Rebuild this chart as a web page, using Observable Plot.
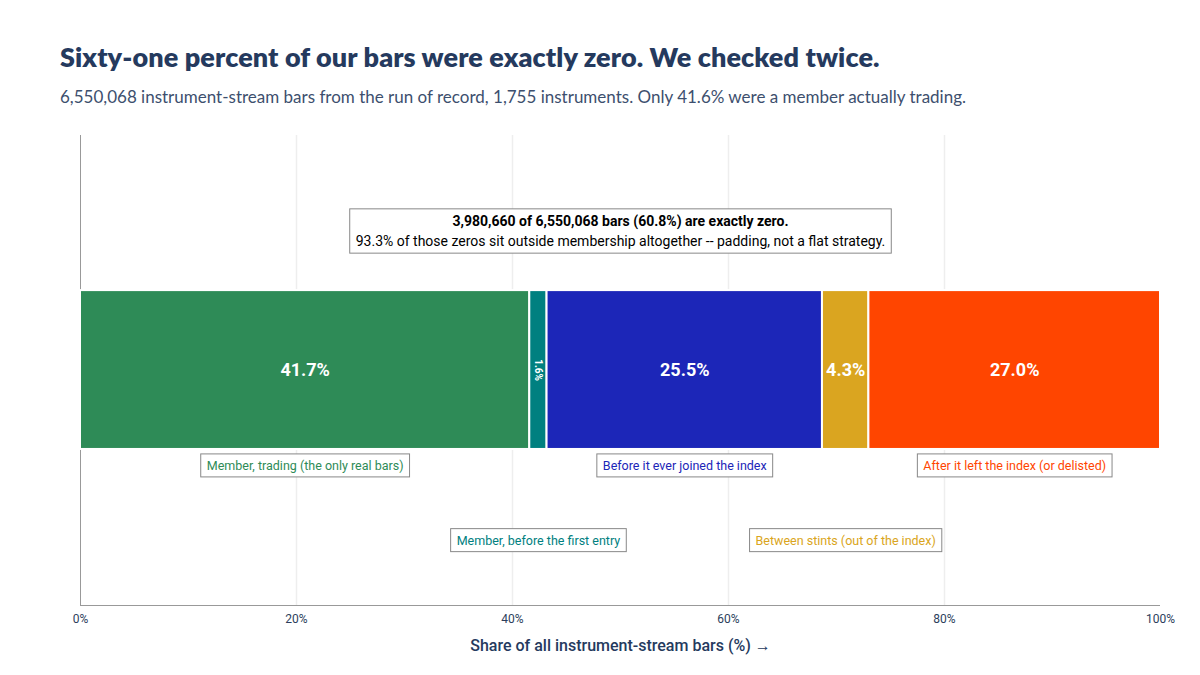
<!DOCTYPE html>
<html><head><meta charset="utf-8">
<script src="https://cdn.jsdelivr.net/npm/d3@7"></script>
<script src="https://cdn.jsdelivr.net/npm/@observablehq/plot@0.6"></script>
<style>
body{margin:0;background:#fff;font-family:Roboto,sans-serif;}
#wrap{position:relative;width:1200px;height:675px;}
h1{position:absolute;left:60px;top:40px;margin:0;font:800 27px Lato,sans-serif;color:#253a5e;letter-spacing:0.1px}
.sub{position:absolute;left:60px;top:86px;margin:0;font:400 17px Lato,sans-serif;color:#3d4f6e}
#chart{position:absolute;left:0;top:125px}
</style></head><body>
<div id="wrap">
<h1>Sixty-one percent of our bars were exactly zero. We checked twice.</h1>
<p class="sub">6,550,068 instrument-stream bars from the run of record, 1,755 instruments. Only 41.6% were a member actually trading.</p>
<div id="chart"></div>
</div>
<script>
const categories = ["Member, trading (the only real bars)","Member, before the first entry","Before it ever joined the index","Between stints (out of the index)","After it left the index (or delisted)"];
const shares = [41.6, 1.6, 25.5, 4.3, 27.0];
const shareLabels = ["41.7%","1.6%","25.5%","4.3%","27.0%"];
const colors = ["#2e8b57","#008080","#1c26b8","#daa520","#ff4500"];
const xTicks = [0,20,40,60,80,100];
const noteLines = ["3,980,660 of 6,550,068 bars (60.8%) are exactly zero.","93.3% of those zeros sit outside membership altogether -- padding, not a flat strategy."];

let acc = 0;
const rows = categories.map((c,i)=>{const r={cat:c,share:shares[i],label:shareLabels[i],color:colors[i],x1:acc,x2:acc+shares[i],mid:acc+shares[i]/2,row:i%2===0?0.703:0.862,rot:shares[i]<3};acc+=shares[i];return r;});

const plot = Plot.plot({
  width:1200, height:540, marginLeft:80, marginRight:40, marginTop:10, marginBottom:60,
  style:{fontFamily:"Roboto, sans-serif", fontSize:"12px", color:"#2c3e5c"},
  x:{domain:[0,100], ticks:xTicks, tickFormat:d=>d+"%", label:"Share of all instrument-stream bars (%)", labelAnchor:"center", labelOffset:45, grid:false, tickSize:0},
  y:{domain:[0,1], reverse:true, axis:null},
  marks:[
    Plot.ruleX(xTicks.slice(1,-1), {stroke:"#eeeeee", strokeWidth:1.5}),
    Plot.ruleX([0], {stroke:"#999"}),
    Plot.ruleY([1], {stroke:"#999"}),
    Plot.rectX(rows, {x1:"x1", x2:"x2", y1:0.33, y2:0.668, fill:"color", stroke:"white", strokeWidth:2}),
    Plot.text(rows.filter(d=>!d.rot), {x:"mid", y:0.499, text:"label", fill:"white", fontSize:18, fontWeight:"bold"}),
    Plot.text(rows.filter(d=>d.rot), {x:"mid", y:0.499, text:"label", fill:"white", fontSize:10, fontWeight:"bold", rotate:90}),
    Plot.text(rows, {x:"mid", y:"row", text:"cat", fill:"color", fontSize:12.5, className:"boxed"}),
    Plot.text([noteLines.join("\n")], {x:50, y:0.2, text:d=>d, fill:"black", fontSize:14, lineHeight:1.45, className:"boxed note"})
  ]
});
document.getElementById("chart").appendChild(plot);
plot.querySelectorAll("g[aria-label='x-axis tick label'] text").forEach(t=>t.setAttribute("font-size","12"));
const lab = plot.querySelector("g[aria-label='x-axis label'] text");
if(lab){lab.setAttribute("font-size","16");lab.setAttribute("font-weight","500");lab.setAttribute("fill","#253a5e");}
plot.querySelectorAll(".note text tspan:first-child").forEach(t=>t.setAttribute("font-weight","bold"));
plot.querySelectorAll("g.boxed text").forEach(t=>{
  const b=t.getBBox(); const px=6, py=4;
  const r=document.createElementNS("http://www.w3.org/2000/svg","rect");
  r.setAttribute("x",b.x-px); r.setAttribute("y",b.y-py);
  r.setAttribute("width",b.width+2*px); r.setAttribute("height",b.height+2*py);
  r.setAttribute("fill","white"); r.setAttribute("stroke","#888");
  if(t.getAttribute("transform")) r.setAttribute("transform",t.getAttribute("transform"));
  t.parentNode.insertBefore(r,t);
});
</script>
</body></html>
